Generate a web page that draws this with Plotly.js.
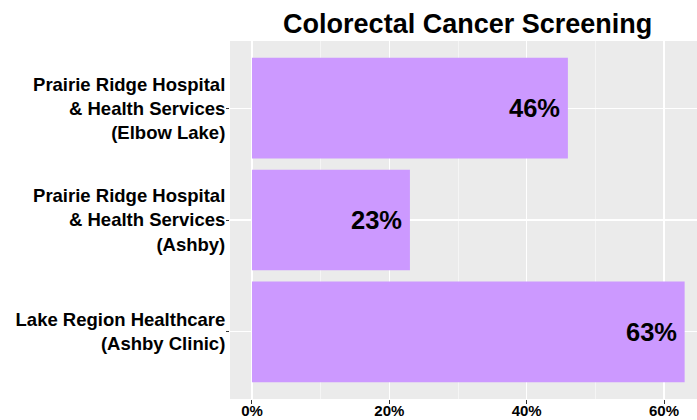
<!DOCTYPE html>
<html>
<head>
<meta charset="utf-8">
<script src="https://cdn.plot.ly/plotly-3.0.1.min.js"></script>
<style>html,body{margin:0;padding:0;background:#fff;}#chart{width:697px;height:420px;}</style>
</head>
<body>
<div id="chart"></div>
<script>
const categories = [
  "Lake Region Healthcare<br>(Ashby Clinic)",
  "Prairie Ridge Hospital<br>& Health Services<br>(Ashby)",
  "Prairie Ridge Hospital<br>& Health Services<br>(Elbow Lake)"
];
const values = [63, 23, 46];
const valueLabels = ["63%", "23%", "46%"];
const xTickVals = [0, 20, 40, 60];
const xTickText = ["0%", "20%", "40%", "60%"];

const barColor = "#CC99FF";
const fontFam = "Liberation Sans, Arial, sans-serif";

const trace = {
  type: "bar",
  orientation: "h",
  x: values,
  y: categories,
  width: 0.9,
  marker: {color: barColor},
  hoverinfo: "none"
};

const annotations = values.map((v, i) => ({
  x: v, y: categories[i], xref: "x", yref: "y",
  text: "<b>" + valueLabels[i] + "</b>",
  showarrow: false, xanchor: "right", yanchor: "middle",
  xshift: -6,
  font: {family: fontFam, size: 25.5, color: "#000"}
}));

const layout = {
  width: 697, height: 420,
  margin: {l: 230, r: 0, t: 41, b: 21, pad: 0},
  paper_bgcolor: "#FFFFFF",
  plot_bgcolor: "#EBEBEB",
  showlegend: false,
  title: {
    text: "<b>Colorectal Cancer Screening</b>",
    font: {family: fontFam, size: 27, color: "#000"},
    x: 0.671, xanchor: "center", xref: "container",
    y: 0.943, yanchor: "middle", yref: "container"
  },
  xaxis: {
    range: [-3.2, 64.8],
    tickvals: xTickVals, ticktext: xTickText.map(t => "<b>" + t + "</b>"),
    tickfont: {family: fontFam, size: 15, color: "#000"},
    ticks: "outside", ticklen: 4, tickcolor: "#333333", tickwidth: 1,
    ticklabelstandoff: -6,
    showgrid: true, gridcolor: "#FFFFFF", gridwidth: 1.1,
    minor: {dtick: 10, tick0: 0, showgrid: true, gridcolor: "#FFFFFF", gridwidth: 0.5, ticks: ""},
    zeroline: false, showline: false, fixedrange: true
  },
  yaxis: {
    type: "category",
    categoryorder: "array", categoryarray: categories,
    range: [-0.6, 2.6],
    tickvals: categories,
    ticktext: categories.map(c => "<b>" + c + "</b>"),
    tickfont: {family: fontFam, size: 18.5, color: "#000"},
    ticks: "outside", ticklen: 3, tickcolor: "#333333", tickwidth: 1,
    ticklabelstandoff: -3,
    showgrid: true, gridcolor: "#FFFFFF", gridwidth: 1.1,
    zeroline: false, showline: false, fixedrange: true
  },
  annotations: annotations,
  bargap: 0.1
};

Plotly.newPlot("chart", [trace], layout, {staticPlot: true, displayModeBar: false});
</script>
</body>
</html>
